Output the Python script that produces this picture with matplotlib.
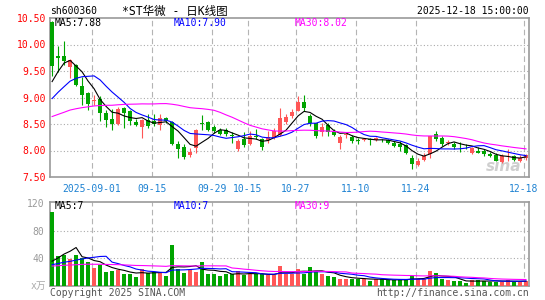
import matplotlib
matplotlib.use('Agg')
import matplotlib.pyplot as plt
import numpy as np

W, H = 545, 300

# daily bars, 2025-08-21 .. 2025-12-18 (80 sessions)
opens = [10.43, 9.78, 9.78, 9.58, 9.61, 9.22, 9.08, 8.94, 8.98, 8.71,
         8.59, 8.50, 8.80, 8.74, 8.54, 8.45, 8.58, 8.55, 8.48, 8.62,
         8.53, 8.13, 8.07, 7.91, 8.05, 8.51, 8.54, 8.45, 8.39, 8.39,
         8.30, 8.03, 8.21, 8.13, 8.28, 8.21, 8.19, 8.23, 8.29, 8.54,
         8.65, 8.75, 8.92, 8.66, 8.51, 8.35, 8.48, 8.35, 8.15, 8.30,
         8.26, 8.19, 8.20, 8.21, 8.19, 8.20, 8.20, 8.15, 8.12, 8.10,
         7.85, 7.73, 7.82, 7.93, 8.32, 8.23, 8.14, 8.13, 8.11, 8.09,
         7.96, 8.00, 8.00, 7.93, 7.92, 7.79, 7.89, 7.90, 7.81, 7.85]
highs = [10.45, 9.98, 10.07, 9.72, 9.64, 9.39, 9.10, 9.05, 9.02, 8.76,
         8.78, 8.82, 8.83, 8.76, 8.60, 8.60, 8.68, 8.68, 8.68, 8.64,
         8.56, 8.17, 8.13, 8.04, 8.40, 8.67, 8.56, 8.48, 8.43, 8.42,
         8.35, 8.22, 8.35, 8.36, 8.41, 8.24, 8.36, 8.42, 8.80, 8.69,
         8.78, 9.03, 9.05, 8.69, 8.52, 8.51, 8.52, 8.40, 8.29, 8.35,
         8.29, 8.23, 8.24, 8.23, 8.25, 8.22, 8.22, 8.18, 8.18, 8.12,
         7.91, 7.85, 7.95, 8.28, 8.36, 8.27, 8.19, 8.16, 8.16, 8.12,
         8.06, 8.06, 8.02, 7.97, 7.95, 7.93, 8.02, 7.92, 7.92, 7.94]
lows = [9.40, 9.49, 9.62, 9.37, 9.22, 8.86, 8.76, 8.86, 8.56, 8.45,
        8.39, 8.48, 8.42, 8.48, 8.46, 8.24, 8.42, 8.47, 8.39, 8.52,
        8.10, 7.85, 7.84, 7.87, 7.95, 8.39, 8.36, 8.33, 8.30, 8.28,
        8.14, 7.99, 8.07, 8.10, 8.22, 8.01, 8.15, 8.21, 8.27, 8.50,
        8.62, 8.74, 8.75, 8.46, 8.24, 8.27, 8.28, 8.27, 8.03, 8.24,
        8.15, 8.13, 8.17, 8.10, 8.17, 8.16, 8.13, 8.06, 8.00, 7.93,
        7.65, 7.70, 7.80, 7.85, 8.17, 8.08, 8.10, 8.02, 7.97, 8.03,
        7.94, 7.95, 7.90, 7.88, 7.80, 7.76, 7.80, 7.81, 7.79, 7.83]
closes = [9.60, 9.74, 9.68, 9.71, 9.24, 9.05, 8.87, 8.96, 8.70, 8.58,
          8.50, 8.78, 8.70, 8.55, 8.49, 8.58, 8.46, 8.50, 8.61, 8.56,
          8.13, 8.03, 7.88, 7.98, 8.39, 8.50, 8.39, 8.36, 8.32, 8.32,
          8.27, 8.18, 8.10, 8.27, 8.26, 8.06, 8.25, 8.37, 8.61, 8.63,
          8.73, 8.92, 8.80, 8.51, 8.27, 8.45, 8.35, 8.29, 8.26, 8.31,
          8.18, 8.18, 8.21, 8.19, 8.24, 8.19, 8.15, 8.08, 8.06, 7.95,
          7.75, 7.81, 7.90, 8.27, 8.21, 8.12, 8.15, 8.06, 8.10, 8.08,
          8.04, 7.96, 7.93, 7.90, 7.81, 7.90, 7.90, 7.82, 7.86, 7.92]
volumes = [107, 44, 45, 38.5, 45, 40, 35, 26.4, 30, 20.6,
           22, 23, 18, 18, 13.3, 24.5, 19.6, 20.6, 19.6, 14.7,
           60, 24.5, 19.6, 22.6, 20.6, 35, 18, 18, 14.7, 18,
           17, 21.6, 15.8, 18, 17, 17, 16, 15.8, 29, 18,
           18, 24.5, 18, 28, 21.6, 18, 14.7, 13.3, 10.8, 10.8,
           10.8, 10.8, 10.8, 7.5, 9.9, 9.9, 8.5, 8.5, 8.5, 9.9,
           14.7, 10.8, 10.8, 22, 19.1, 9.9, 8.5, 7, 7, 4.6,
           8.5, 8.5, 7.5, 6.5, 6.5, 6.5, 8, 6.5, 6.5, 7.5]

# sessions before the window, only feed the moving averages
pre_closes = [8.52, 8.48, 8.45, 8.50, 8.43, 8.40, 8.46, 8.49, 8.44, 8.47,
              8.51, 8.48, 8.45, 8.42, 8.46, 8.50, 8.48, 8.47, 8.52, 8.49,
              8.55, 8.62, 8.68, 8.70, 8.75, 8.79, 8.88, 9.46, 9.77]
pre_volumes = [30, 26, 28, 32, 25, 27, 29, 31, 26, 28,
               27, 30, 29, 26, 28, 27, 29, 28, 26, 28,
               28, 25, 27, 26, 24, 20, 17, 18, 18]

tick_pos = [7, 17, 27, 33, 41, 51, 61, 79]
tick_labels = ['2025-09-01', '09-15', '09-29', '10-15', '10-27',
               '11-10', '11-24', '12-18']
price_ticks = [7.5, 8.0, 8.5, 9.0, 9.5, 10.0, 10.5]
vol_ticks = [40, 80, 120]

RED = '#ff5656'
GREEN = '#00a400'
MONO = ['DejaVu Sans Mono', 'Noto Sans CJK SC']
FRAME = '#9a9a9a'


def moving_avg(values, pre, n):
    s = np.array(pre + values, dtype=float)
    out = np.convolve(s, np.ones(n) / n, mode='valid')
    return out[-len(values):]


def rect(left, top, right, bottom):
    return [left / W, 1 - bottom / H, (right - left) / W, (bottom - top) / H]


def fy(y):
    return 1 - y / H


x = np.arange(len(closes))
o = np.array(opens)
c = np.array(closes)
up = c >= o
colors = [RED if u else GREEN for u in up]

fig = plt.figure(figsize=(W / 100, H / 100), dpi=100)
ax = fig.add_axes(rect(50, 18, 529, 177))
axv = fig.add_axes(rect(50, 202, 529, 286))

for a in (ax, axv):
    a.set_xlim(-0.35, 79.5)
    for t in tick_pos:
        a.axvline(t - 0.4, color='#b4b4b4', ls=(0, (5, 3)), lw=0.8, zorder=1)
    for s in a.spines.values():
        s.set_color(FRAME)
        s.set_linewidth(1.2)
    a.tick_params(length=0)

# price panel
ax.set_ylim(7.5, 10.5)
for p in price_ticks[1:-1]:
    ax.axhline(p, color='#aaaaaa', ls=(0, (1, 2)), lw=0.8, zorder=1)
ax.text(0.985, 0.02, 'sina', transform=ax.transAxes, ha='right', va='bottom',
        fontsize=11, fontweight='bold', fontstyle='italic', color='#cfcfcf',
        zorder=1.5)
ax.vlines(x, lows, highs, colors=colors, lw=0.8, zorder=3)
ax.bar(x, np.maximum(np.abs(c - o), 0.012), bottom=np.minimum(o, c),
       width=0.8, color=colors, linewidth=0, zorder=4)
ax.plot(x, moving_avg(closes, pre_closes, 5), color='black', lw=0.8, zorder=5)
ax.plot(x, moving_avg(closes, pre_closes, 10), color='#0000ff', lw=0.8, zorder=5)
ax.plot(x, moving_avg(closes, pre_closes, 30), color='#ff00ff', lw=0.8, zorder=5)

ax.set_yticks(price_ticks, [f'{p:.2f}' for p in price_ticks])
ax.set_xticks([t - 0.4 for t in tick_pos], tick_labels)
ax.tick_params(axis='y', colors='#ff0000', pad=3)
ax.tick_params(axis='x', colors='#1e82d2', pad=5)
for lab in ax.get_xticklabels() + ax.get_yticklabels():
    lab.set_family(MONO)
    lab.set_fontsize(7)

# volume panel
axv.set_ylim(0, 122)
for v in vol_ticks[:-1]:
    axv.axhline(v, color='#aaaaaa', ls=(0, (1, 2)), lw=0.8, zorder=1)
axv.bar(x, volumes, width=0.8, color=colors, linewidth=0, zorder=3)
axv.plot(x, moving_avg(volumes, pre_volumes, 5), color='black', lw=0.8, zorder=5)
axv.plot(x, moving_avg(volumes, pre_volumes, 10), color='#0000ff', lw=0.8, zorder=5)
axv.plot(x, moving_avg(volumes, pre_volumes, 30), color='#ff00ff', lw=0.8, zorder=5)
axv.set_xticks([])
axv.set_yticks(vol_ticks, [str(v) for v in vol_ticks])
axv.tick_params(axis='y', colors='#999999', pad=4)
for lab in axv.get_yticklabels():
    lab.set_family(MONO)
    lab.set_fontsize(7)

# header / labels / footer
txt = dict(family=MONO, fontsize=7, va='center')
fig.text(50 / W, fy(11), 'sh600360', ha='left', color='black', **txt)
fig.text(122 / W, fy(11), '*ST华微 - 日K线图', ha='left', color='black',
         family=MONO, fontsize=8.3, va='center')
fig.text(529 / W, fy(11), '2025-12-18 15:00:00', ha='right', color='black', **txt)
fig.text(55 / W, fy(23.5), 'MA5:7.88', ha='left', color='black', **txt)
fig.text(174 / W, fy(23.5), 'MA10:7.90', ha='left', color='#0000ff', **txt)
fig.text(295 / W, fy(23.5), 'MA30:8.02', ha='left', color='#ff00ff', **txt)
fig.text(55 / W, fy(206), 'MA5:7', ha='left', color='black', **txt)
fig.text(174 / W, fy(206), 'MA10:7', ha='left', color='#0000ff', **txt)
fig.text(295 / W, fy(206), 'MA30:9', ha='left', color='#ff00ff', **txt)
fig.text(46 / W, fy(286), 'x万', ha='right', color='#aaaaaa', **txt)
fig.text(50 / W, fy(292.5), 'Copyright 2025 SINA.COM', ha='left',
         color='#555555', **txt)
fig.text(529 / W, fy(292.5), 'http://finance.sina.com.cn', ha='right',
         color='#555555', **txt)

fig.savefig('out.png', dpi=100)
